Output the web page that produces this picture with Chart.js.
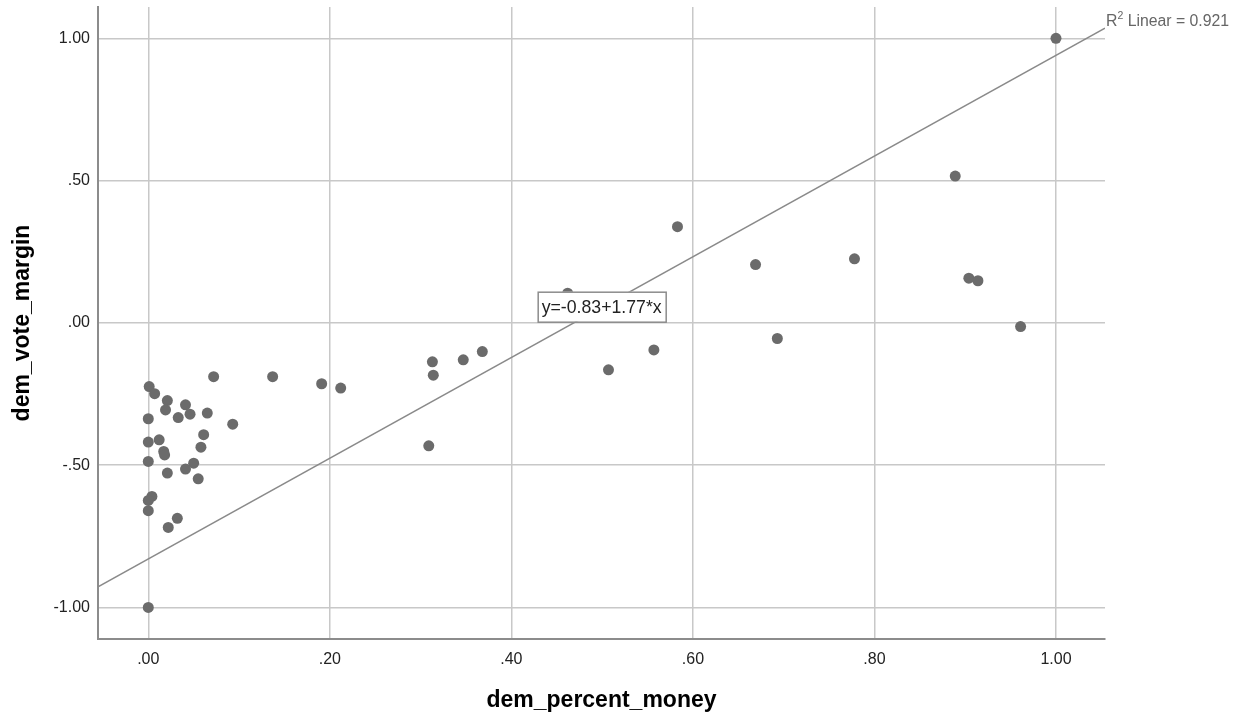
<!DOCTYPE html>
<html>
<head>
<meta charset="utf-8">
<title>dem_vote_margin vs dem_percent_money</title>
<script src="https://cdn.jsdelivr.net/npm/chart.js@4/dist/chart.umd.min.js"></script>
<style>
  html,body{margin:0;padding:0;background:#fff;}
  #wrap{width:1240px;height:717px;}
</style>
</head>
<body>
<div id="wrap"><canvas id="ch-scatter" width="1240" height="717"></canvas></div>
<script>
/* ---------- Datos ---------- */
const xValues=[0.072,0.137,0.001,0.007,0.021,0.041,0.019,0.000,0.033,0.046,0.065,0.093,0.061,0.000,0.012,0.058,
  0.017,0.018,0.000,0.050,0.041,0.021,0.055,0.004,0.000,0.000,0.032,0.022,0.000,0.191,0.212,0.313,0.314,0.347,
  0.368,0.309,0.507,0.557,0.462,0.583,0.669,0.778,0.693,0.889,0.904,0.914,0.961,1.000];
const yValues=[-0.189,-0.189,-0.224,-0.249,-0.273,-0.288,-0.306,-0.337,-0.333,-0.321,-0.317,-0.356,-0.393,-0.419,-0.411,-0.437,
  -0.452,-0.464,-0.487,-0.493,-0.514,-0.528,-0.548,-0.610,-0.624,-0.660,-0.687,-0.719,-1.000,-0.214,-0.229,-0.137,-0.184,-0.130,
  -0.101,-0.432,-0.165,-0.095,0.104,0.338,0.205,0.225,-0.055,0.516,0.157,0.148,-0.013,1.000];
const xTicks=[0,0.2,0.4,0.6,0.8,1.0];
const yTicks=[-1.0,-0.5,0,0.5,1.0];
const xRange=[-0.0554,1.054];
const yRange=[-1.111,1.110];
const fitIntercept=-0.83, fitSlope=1.77, fitR2=0.921;
const fitLabel='y=-0.83+1.77*x';

/* ---------- Helpers ---------- */
const fmtTick=v=>{const s=Number(v).toFixed(2);return s.replace(/^(-?)0\./,'$1.');};
const FONT='"Liberation Sans", Arial, sans-serif';
const fitPoints=xRange.map(x=>({x,y:fitIntercept+fitSlope*x}));

/* ---------- Anotaciones (etiqueta de la recta y R2) ---------- */
const fitNotes={
  id:'fitNotes',
  afterDatasetsDraw(chart){
    const {ctx,chartArea:a,scales:{x,y}}=chart;
    ctx.save();
    // caja con la ecuación
    const bx=x.getPixelForValue(0.429), by=y.getPixelForValue(0.1095);
    ctx.font='17.7px '+FONT;
    const w=Math.round(ctx.measureText(fitLabel).width)+8, h=30;
    ctx.fillStyle='#fff';ctx.fillRect(bx,by,w,h);
    ctx.strokeStyle='#8c8c8c';ctx.lineWidth=1.5;ctx.strokeRect(bx+.5,by+.5,w,h);
    ctx.fillStyle='#222';ctx.textBaseline='middle';ctx.textAlign='left';
    ctx.fillText(fitLabel,bx+4,by+h/2+1);
    // R2 Linear
    let tx=a.right+1; const ty=22;
    ctx.fillStyle='#666';
    ctx.font='15.8px '+FONT;ctx.fillText('R',tx,ty);tx+=ctx.measureText('R').width;
    ctx.font='10.5px '+FONT;ctx.fillText('2',tx,ty-6);tx+=ctx.measureText('2').width;
    ctx.font='15.8px '+FONT;ctx.fillText(' Linear = '+fitR2.toFixed(3),tx,ty);
    ctx.restore();
  }
};

/* ---------- Gráfico ---------- */
new Chart(document.getElementById('ch-scatter'),{
  type:'scatter',
  data:{datasets:[
    {type:'line',label:'fit',data:fitPoints,borderColor:'#8a8a8a',borderWidth:1.5,pointRadius:0,fill:false,tension:0},
    {label:'obs',data:xValues.map((v,i)=>({x:v,y:yValues[i]})),backgroundColor:'#6b6b6b',borderColor:'#6b6b6b',borderWidth:0,pointRadius:5.5,pointHoverRadius:5.5}
  ]},
  options:{
    responsive:false,animation:false,devicePixelRatio:1,
    layout:{padding:{top:7,right:135,left:0,bottom:0}},
    plugins:{legend:{display:false},tooltip:{enabled:false}},
    scales:{
      x:{type:'linear',min:xRange[0],max:xRange[1],
        afterBuildTicks:s=>{s.ticks=xTicks.map(v=>({value:v}));},
        afterFit:s=>{s.height=78;s.paddingLeft=0;s.paddingRight=0;},
        grid:{color:'#c8c8c8',lineWidth:1.5,drawTicks:false},
        border:{display:true,color:'#8c8c8c',width:2},
        ticks:{color:'#222',font:{size:16,family:FONT},padding:11,maxRotation:0,callback:v=>fmtTick(v)},
        title:{display:true,text:'dem_percent_money',color:'#000',font:{size:23,weight:'bold',family:FONT},padding:{top:0,bottom:3}}
      },
      y:{type:'linear',min:yRange[0],max:yRange[1],
        afterBuildTicks:s=>{s.ticks=yTicks.map(v=>({value:v}));},
        afterFit:s=>{s.width=98;s.paddingTop=0;s.paddingBottom=0;},
        grid:{color:'#c8c8c8',lineWidth:1.5,drawTicks:false},
        border:{display:true,color:'#8c8c8c',width:2},
        ticks:{color:'#222',font:{size:16,family:FONT},padding:8,callback:v=>fmtTick(v)},
        title:{display:true,text:'dem_vote_margin',color:'#000',font:{size:23,weight:'bold',family:FONT},padding:{top:9,bottom:0}}
      }
    }
  },
  plugins:[fitNotes]
});
</script>
</body>
</html>
